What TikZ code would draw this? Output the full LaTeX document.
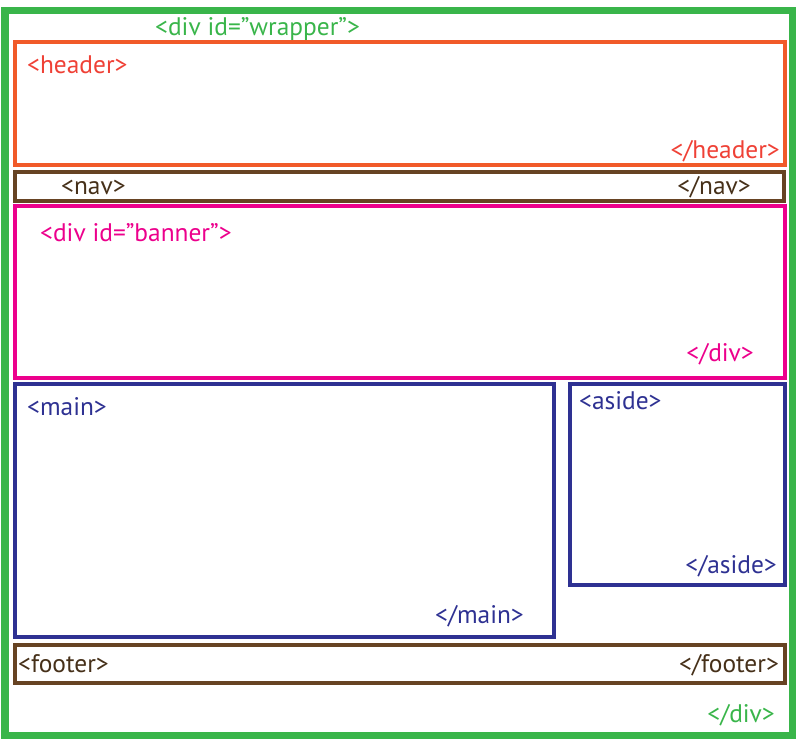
\documentclass[tikz,border=0pt]{standalone}
\usepackage{fontspec}
\setmainfont{PT Sans}
\definecolor{wrapgreen}{RGB}{57,181,74}
\definecolor{headorange}{RGB}{241,90,41}
\definecolor{headred}{RGB}{239,65,54}
\definecolor{navbrown}{RGB}{103,67,35}
\definecolor{navtext}{RGB}{70,48,25}
\definecolor{banmagenta}{RGB}{236,0,140}
\definecolor{mainblue}{RGB}{46,49,146}
\tikzset{
  tag/.style={font=\fontsize{25.5}{30}\selectfont, inner sep=0pt},
  box/.style={line width=4bp},
}
\begin{document}
\begin{tikzpicture}[x=1bp,y=-1bp]
\useasboundingbox (0,0) rectangle (800,743);
% wrapper
\draw[wrapgreen,line width=7bp] (5,11) rectangle (792,735);
\node[tag,wrapgreen,anchor=base west] (wrapopen) at (155,36) {<div id=”wrapper”>};
\node[tag,wrapgreen,anchor=base east] (wrapclose) at (775,722) {</div>};
% header
\draw[box,headorange] (15,42) rectangle (785,165);
\node[tag,headred,anchor=base west] (headopen) at (27,74) {<header>};
\node[tag,headred,anchor=base east] (headclose) at (780,158) {</header>};
% nav
\draw[box,navbrown] (15,172) rectangle (784,201);
\node[tag,navtext,anchor=base west] (navopen) at (61,194) {<nav>};
\node[tag,navtext,anchor=base east] (navclose) at (751,194) {</nav>};
% banner
\draw[box,banmagenta] (15,206) rectangle (785,378);
\node[tag,banmagenta,anchor=base west] (banopen) at (40,241) {<div id=”banner”>};
\node[tag,banmagenta,anchor=base east] (banclose) at (754,361) {</div>};
% main
\draw[box,mainblue] (15,384) rectangle (554,637);
\node[tag,mainblue,anchor=base west] (mainopen) at (27,415) {<main>};
\node[tag,mainblue,anchor=base east] (mainclose) at (524,623) {</main>};
% aside
\draw[box,mainblue] (570,384) rectangle (785,585);
\node[tag,mainblue,anchor=base west] (asideopen) at (579,409) {<aside>};
\node[tag,mainblue,anchor=base east] (asideclose) at (777,573) {</aside>};
% footer
\draw[box,navbrown] (15,645) rectangle (785,683);
\node[tag,navtext,anchor=base west] (footopen) at (18,672) {<footer>};
\node[tag,navtext,anchor=base east] (footclose) at (779,672) {</footer>};
\end{tikzpicture}
\end{document}
